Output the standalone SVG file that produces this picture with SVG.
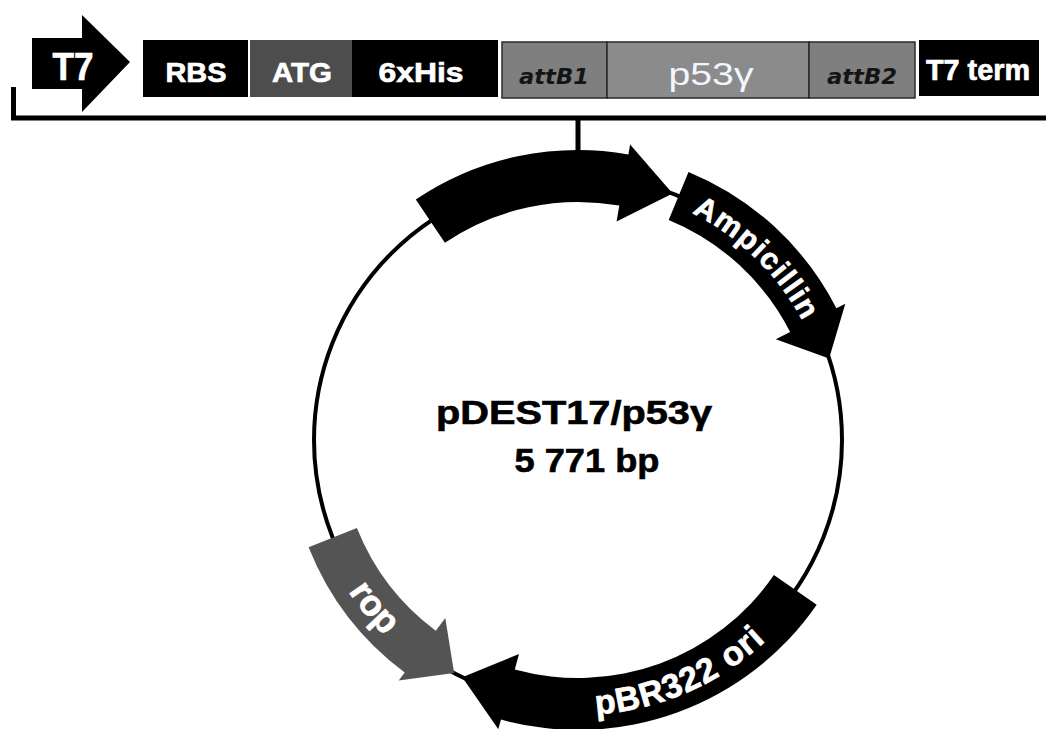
<svg xmlns="http://www.w3.org/2000/svg" xmlns:xlink="http://www.w3.org/1999/xlink" width="1046" height="729" viewBox="0 0 1046 729">
<style>
.lbl{font-family:"Liberation Sans",Arial,sans-serif;font-weight:bold;fill:#fff;stroke:#fff;stroke-width:0.7}
.att{font-family:"DejaVu Sans",Verdana,sans-serif;font-weight:bold;font-style:italic;fill:#141414;font-size:21px}
.box{stroke:#2a2a2a;stroke-width:1.5}
.ctr{font-family:"Liberation Sans",Arial,sans-serif;font-weight:bold;fill:#000;stroke:#000;stroke-width:0.6;font-size:33px}
</style>
<defs>
<path id="pAmp" d="M643.7,194.7 A253,253 0 0 1 822.2,370.0"/>
<path id="pOri" d="M530.2,710.8 A275,275 0 0 0 808.6,589.8"/>
<path id="pRop" d="M312.4,511.2 A273,273 0 0 0 448.9,682.8"/>
</defs>
<rect width="1046" height="729" fill="#fff"/>
<g id="connectors">
<path d="M13.5,87 V118 H1046" fill="none" stroke="#000" stroke-width="5"/>
<line x1="578" y1="118" x2="578" y2="158" stroke="#000" stroke-width="5"/>
</g>
<g id="T7">
<polygon points="32,38 82,38 82,15 130,62 82,112 82,89 32,89" fill="#000"/>
<text class="lbl" x="73" y="80" font-size="39" text-anchor="middle" textLength="41" lengthAdjust="spacingAndGlyphs">T7</text>
</g>
<g id="RBS">
<rect x="143" y="40" width="105" height="57" fill="#000"/>
<text class="lbl" x="196" y="82" font-size="28" text-anchor="middle" textLength="61" lengthAdjust="spacingAndGlyphs">RBS</text>
</g>
<g id="ATG">
<rect x="250" y="40" width="102" height="57" fill="#4d4d4d"/>
<text class="lbl" x="302" y="82" font-size="28" text-anchor="middle" textLength="60" lengthAdjust="spacingAndGlyphs">ATG</text>
</g>
<g id="His">
<rect x="352" y="40" width="146" height="57" fill="#000"/>
<text class="lbl" x="421" y="82" font-size="28" text-anchor="middle" textLength="85" lengthAdjust="spacingAndGlyphs">6xHis</text>
</g>
<g id="attB1">
<rect class="box" x="502" y="42" width="105" height="56" fill="#7f7f7f"/>
<text class="att" x="554" y="84" text-anchor="middle" textLength="70" lengthAdjust="spacingAndGlyphs">attB1</text>
</g>
<g id="p53">
<rect class="box" x="607" y="42" width="202" height="56" fill="#8b8b8b"/>
<text x="711" y="85" font-family="Liberation Sans,Arial,sans-serif" font-size="32" fill="#f2f6ff" text-anchor="middle" textLength="85" lengthAdjust="spacingAndGlyphs">p53γ</text>
</g>
<g id="attB2">
<rect class="box" x="809" y="42" width="106" height="56" fill="#7f7f7f"/>
<text class="att" x="862" y="84" text-anchor="middle" textLength="70" lengthAdjust="spacingAndGlyphs">attB2</text>
</g>
<g id="T7term">
<rect x="919" y="40" width="120" height="56" fill="#000"/>
<text class="lbl" x="978" y="80" font-size="29" text-anchor="middle" textLength="104" lengthAdjust="spacingAndGlyphs">T7 term</text>
</g>
<g id="plasmid">
<circle cx="578" cy="440" r="264" fill="none" stroke="#000" stroke-width="4"/>
</g>
<g id="insert">
<path d="M415.8,199.6 A290,290 0 0 1 628.4,154.4 L630.1,144.6 L672.6,193.5 L616.6,221.4 L619.3,205.6 A238,238 0 0 0 444.9,242.7 Z" fill="#000"/>
</g>
<g id="ampicillin">
<path d="M688.5,171.9 A290,290 0 0 1 836.4,308.3 L845.3,303.8 L829.1,358.4 L775.8,339.2 L790.1,331.9 A238,238 0 0 0 668.7,220.0 Z" fill="#000"/>
<text class="lbl" font-size="30" letter-spacing="1.5"><textPath xlink:href="#pAmp" href="#pAmp" startOffset="50%" text-anchor="middle">Ampicillin</textPath></text>
</g>
<g id="ori">
<path d="M816.7,604.7 A290,290 0 0 1 501.0,719.6 L498.3,729.2 L462.3,677.3 L519.0,654.0 L514.8,669.5 A238,238 0 0 0 773.9,575.1 Z" fill="#000"/>
<text class="lbl" font-size="34" letter-spacing="1"><textPath xlink:href="#pOri" href="#pOri" startOffset="50%" text-anchor="middle">pBR322 ori</textPath></text>
</g>
<g id="rop">
<path d="M308.6,547.2 A290,290 0 0 0 404.7,672.5 L398.7,680.5 L454.1,673.1 L445.3,618.0 L435.8,630.8 A238,238 0 0 1 356.9,528.0 Z" fill="#545454"/>
<text class="lbl" font-size="36"><textPath xlink:href="#pRop" href="#pRop" startOffset="52%" text-anchor="middle">rop</textPath></text>
</g>
<g id="title">
<text class="ctr" x="574" y="424" text-anchor="middle" textLength="276" lengthAdjust="spacingAndGlyphs">pDEST17/p53γ</text>
<text class="ctr" x="587" y="472" text-anchor="middle" textLength="145" lengthAdjust="spacingAndGlyphs">5 771 bp</text>
</g>
</svg>
